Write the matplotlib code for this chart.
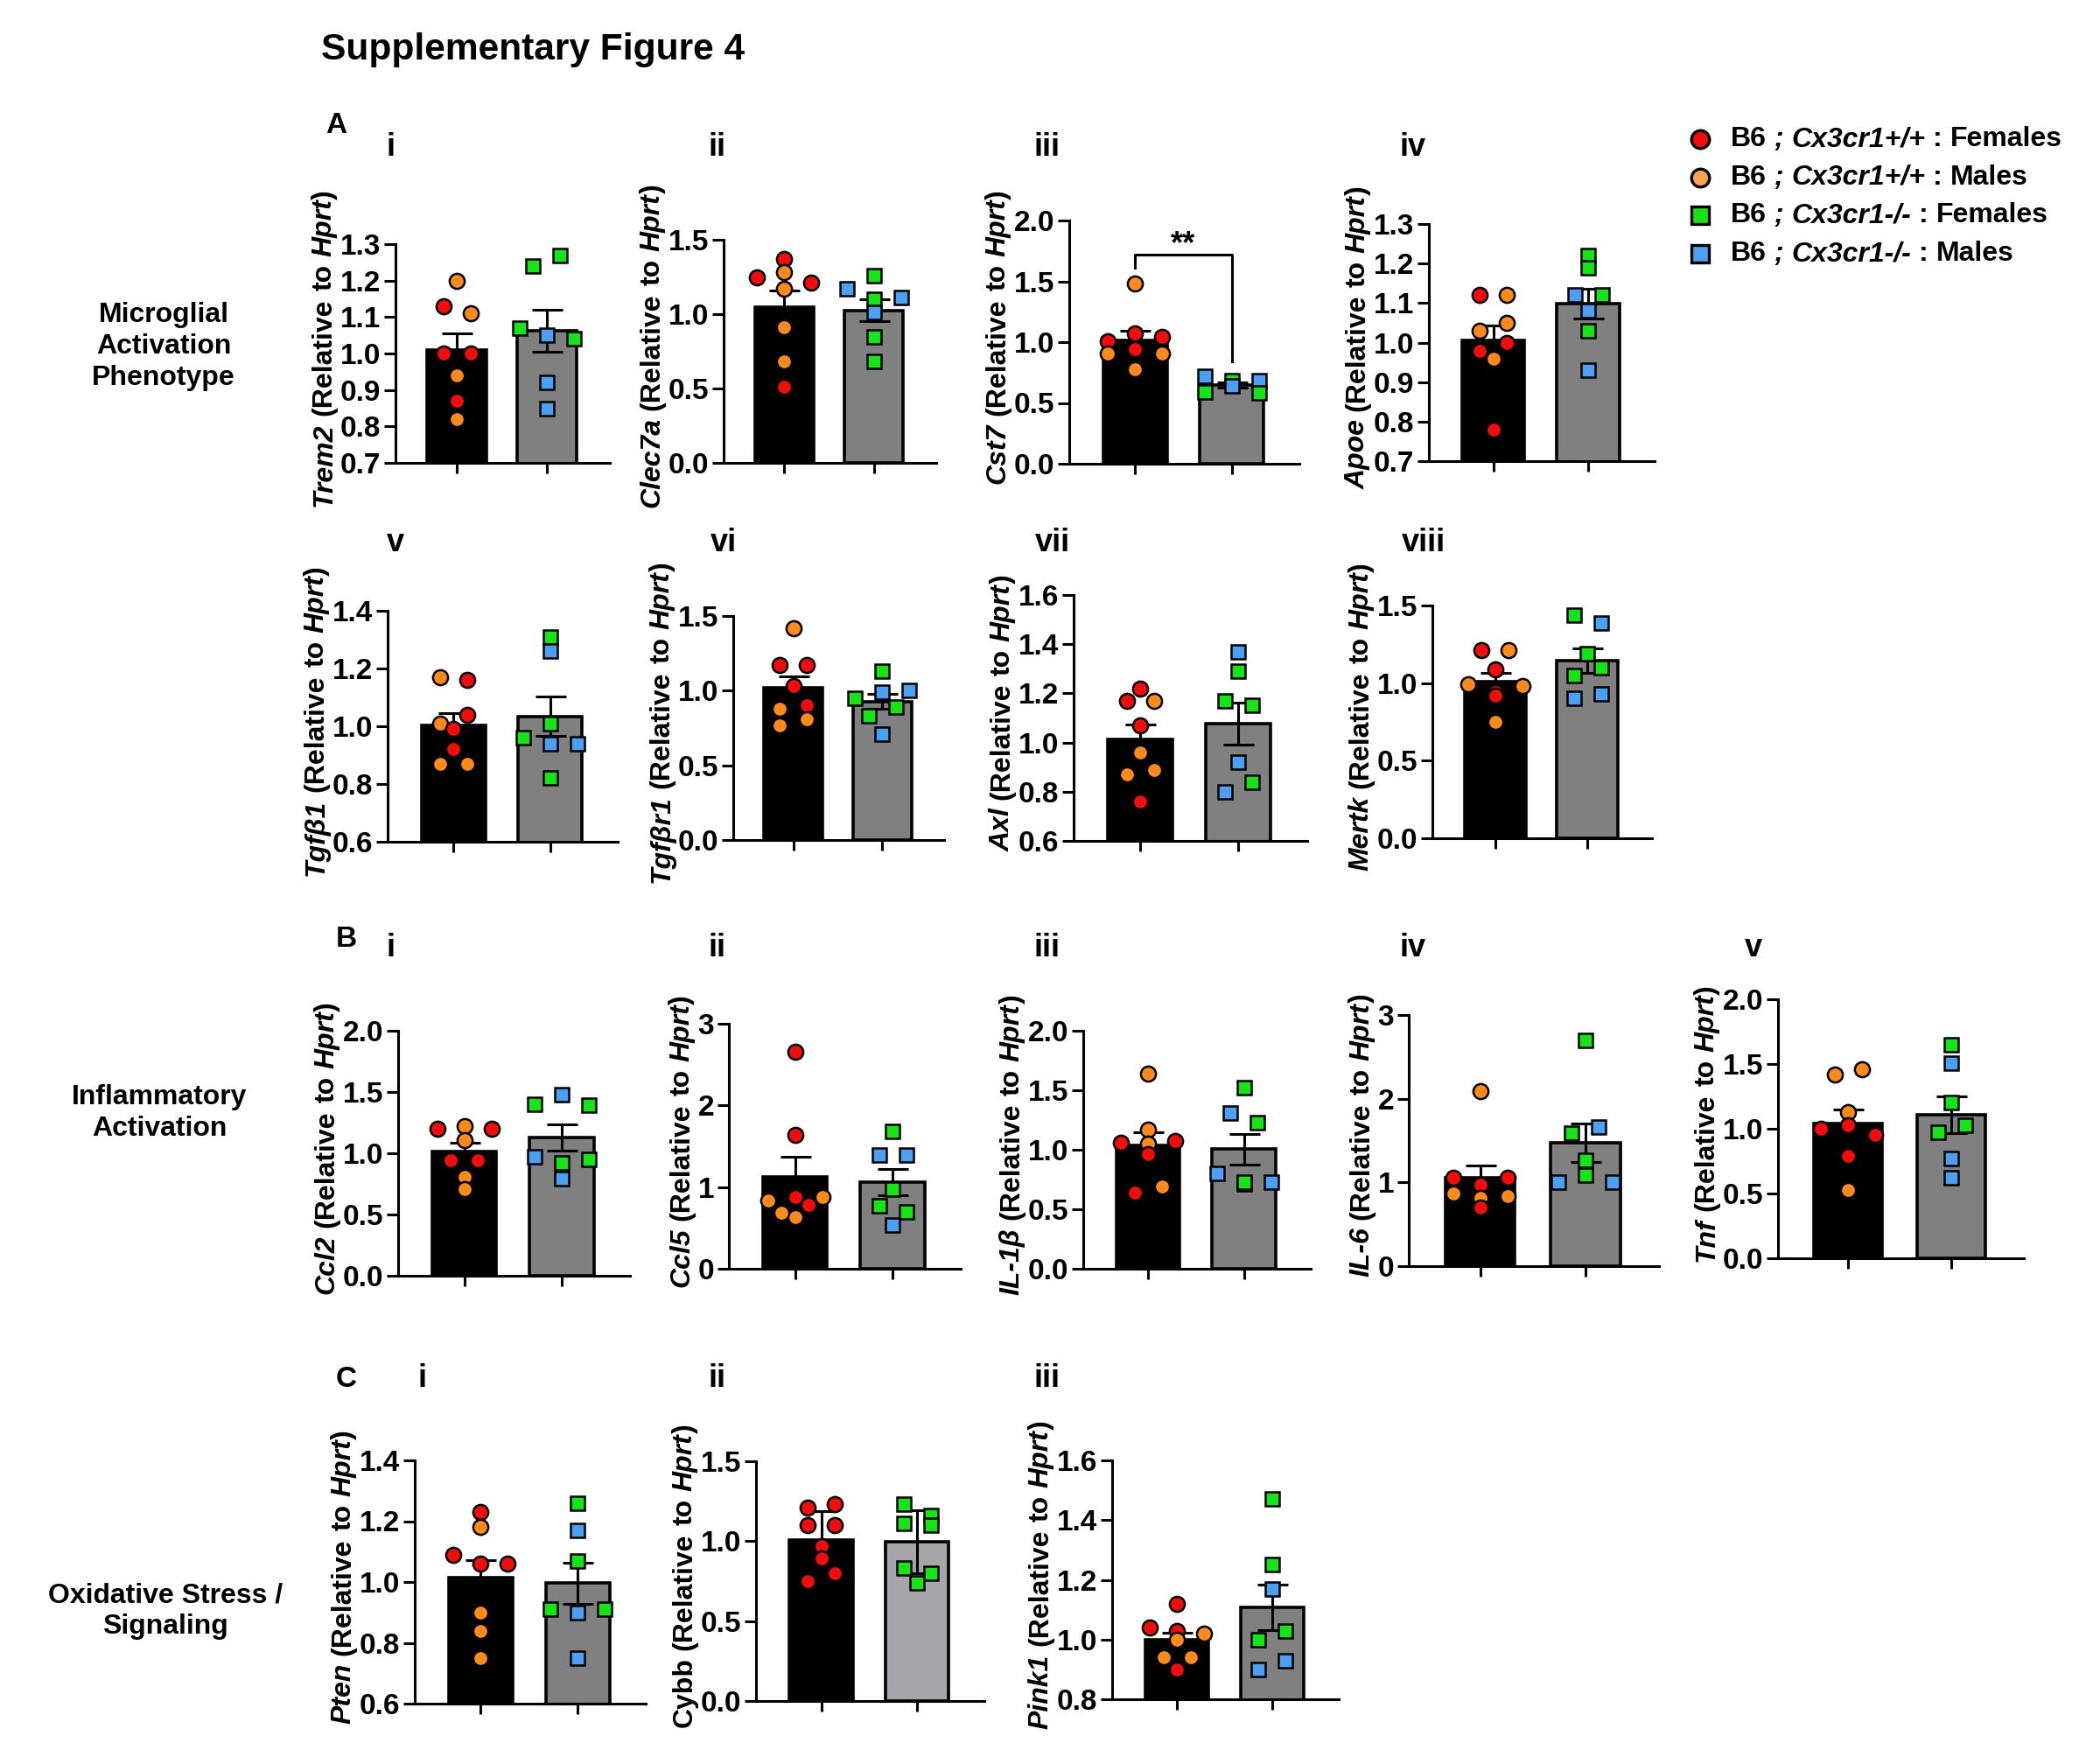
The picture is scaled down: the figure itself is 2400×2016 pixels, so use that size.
import matplotlib
matplotlib.use('Agg')
import matplotlib.pyplot as plt
import numpy as np

plt.rcParams['font.family'] = ['Liberation Sans', 'DejaVu Sans']
plt.rcParams['font.weight'] = 'bold'

W, H, DPI = 2400, 2016, 200

RED = '#f20d0d'
ORANGE = '#ff8a1c'
GREEN = '#16e416'
BLUE = '#4c9ff2'
LEG_ORANGE = '#f7a24e'

# ---- data (relative expression, each point one animal) ----
# sex codes: F = female, M = male ; wt = Cx3cr1+/+, ko = Cx3cr1-/-
trem2_wt = [1.20, 1.13, 1.11, 1.00, 1.00, 0.94, 0.87, 0.82]
trem2_wt_sex = 'MFMFFMFM'
trem2_ko = [1.24, 1.27, 1.07, 1.05, 1.04, 0.92, 0.85]
trem2_ko_sex = 'FFFMFMM'

clec7a_wt = [1.37, 1.25, 1.28, 1.21, 1.17, 0.91, 0.68, 0.51]
clec7a_wt_sex = 'FFMFMMMF'
clec7a_ko = [1.26, 1.17, 1.10, 1.11, 1.01, 0.85, 0.68]
clec7a_ko_sex = 'FMFMMFF'

cst7_wt = [1.48, 1.01, 1.07, 1.04, 0.91, 0.94, 0.91, 0.78]
cst7_wt_sex = 'MFFFMFMM'
cst7_ko = [0.72, 0.68, 0.68, 0.59, 0.64, 0.58]
cst7_ko_sex = 'MFMFMF'

apoe_wt = [1.12, 1.12, 1.03, 1.05, 0.98, 1.00, 0.96, 0.78]
apoe_wt_sex = 'FMMMFFMF'
apoe_ko = [1.22, 1.19, 1.12, 1.12, 1.08, 1.03, 0.93]
apoe_ko_sex = 'FFMFMFM'

tgfb1_wt = [1.17, 1.16, 1.01, 1.04, 0.99, 0.92, 0.87, 0.87]
tgfb1_wt_sex = 'MFMFFFMM'
tgfb1_ko = [1.31, 1.26, 1.01, 0.96, 0.94, 0.94, 0.82]
tgfb1_ko_sex = 'FMFFMMF'

tgfbr1_wt = [1.42, 1.17, 1.17, 1.03, 0.88, 0.90, 0.77, 0.81]
tgfbr1_wt_sex = 'MFFFMFMM'
tgfbr1_ko = [1.13, 0.95, 0.99, 1.00, 0.83, 0.89, 0.71]
tgfbr1_ko_sex = 'FFMMFFM'

axl_wt = [1.22, 1.17, 1.17, 1.07, 0.96, 0.87, 0.89, 0.76]
axl_wt_sex = 'FFMFMMMF'
axl_ko = [1.37, 1.29, 1.17, 1.15, 0.92, 0.80, 0.84]
axl_ko_sex = 'MFFFMMF'

mertk_wt = [1.21, 1.21, 1.09, 0.99, 0.94, 0.98, 0.92, 0.75]
mertk_wt_sex = 'FMFMFMFM'
mertk_ko = [1.44, 1.39, 1.19, 1.05, 1.10, 0.90, 0.93]
mertk_ko_sex = 'FMFFFMM'

ccl2_wt = [1.20, 1.22, 1.20, 1.11, 0.94, 0.94, 0.81, 0.71]
ccl2_wt_sex = 'FMFMFFMM'
ccl2_ko = [1.40, 1.48, 1.39, 0.97, 0.92, 0.95, 0.79]
ccl2_ko_sex = 'FMFMFFM'

ccl5_wt = [2.66, 1.64, 0.84, 0.88, 0.88, 0.63, 0.69, 0.78]
ccl5_wt_sex = 'FFMFMMMF'
ccl5_ko = [1.68, 1.39, 1.39, 0.97, 0.77, 0.70, 0.54]
ccl5_ko_sex = 'FMMFFFM'

il1b_wt = [1.64, 1.17, 1.06, 1.05, 1.07, 0.96, 0.64, 0.69]
il1b_wt_sex = 'MMFMFFFM'
il1b_ko = [1.52, 1.31, 1.23, 0.80, 0.71, 0.73, 0.73]
il1b_ko_sex = 'FMFMFFM'

il6_wt = [2.09, 1.06, 0.97, 1.06, 0.87, 0.82, 0.84, 0.70]
il6_wt_sex = 'MFFFMMMF'
il6_ko = [2.70, 1.59, 1.66, 1.26, 1.00, 1.09, 1.00]
il6_ko_sex = 'FFMFMFM'

tnf_wt = [1.42, 1.46, 1.13, 1.00, 1.03, 0.95, 0.79, 0.53]
tnf_wt_sex = 'MMMFFFFM'
tnf_ko = [1.65, 1.51, 1.20, 0.97, 1.03, 0.77, 0.62]
tnf_ko_sex = 'FMFFFMM'

pten_wt = [1.23, 1.18, 1.09, 1.06, 1.06, 0.90, 0.84, 0.75]
pten_wt_sex = 'FMFFFMMM'
pten_ko = [1.26, 1.17, 1.07, 0.91, 0.90, 0.91, 0.75]
pten_ko_sex = 'FMFFMFM'

cybb_wt = [1.21, 1.23, 1.10, 1.10, 0.97, 0.89, 0.75, 0.80]
cybb_wt_sex = 'FFFFFFFF'
cybb_ko = [1.23, 1.16, 1.11, 1.10, 0.83, 0.80, 0.74]
cybb_ko_sex = 'FFFFFFF'

pink1_wt = [1.12, 1.04, 1.03, 1.02, 1.00, 0.94, 0.94, 0.90]
pink1_wt_sex = 'FFFMMMMF'
pink1_ko = [1.47, 1.25, 1.17, 1.00, 1.03, 0.90, 0.93]
pink1_ko_sex = 'FFMFFMM'

legend_labels = ['B6 *; Cx3cr1+/+* : Females', 'B6 *; Cx3cr1+/+* : Males',
                 'B6 *; Cx3cr1-/-* : Females', 'B6 *; Cx3cr1-/-* : Males']

# ---- layout: axis box in pixels (y-axis x, x-axis end, top, bottom) ----
panels = [
    dict(wt=trem2_wt, ws=trem2_wt_sex, ko=trem2_ko, ks=trem2_ko_sex, lab='*Trem2* (Relative to *Hprt*)',
         box=(452, 697, 279, 529), ylim=(0.7, 1.3), step=0.1, num='i', nxy=(447, 178)),
    dict(wt=clec7a_wt, ws=clec7a_wt_sex, ko=clec7a_ko, ks=clec7a_ko_sex, lab='*Clec7a* (Relative to *Hprt*)',
         box=(827, 1070, 274, 529), ylim=(0, 1.5), step=0.5, num='ii', nxy=(820, 178)),
    dict(wt=cst7_wt, ws=cst7_wt_sex, ko=cst7_ko, ks=cst7_ko_sex, lab='*Cst7* (Relative to *Hprt*)',
         box=(1222, 1485, 252, 530), ylim=(0, 2.0), step=0.5, num='iii', nxy=(1197, 178),
         sig=(1.72, 1.61, 0.84, '**')),
    dict(wt=apoe_wt, ws=apoe_wt_sex, ko=apoe_ko, ks=apoe_ko_sex, lab='*Apoe* (Relative to *Hprt*)',
         box=(1633, 1891, 256, 527), ylim=(0.7, 1.3), step=0.1, num='iv', nxy=(1615, 178)),
    dict(wt=tgfb1_wt, ws=tgfb1_wt_sex, ko=tgfb1_ko, ks=tgfb1_ko_sex, lab='*Tgfβ1* (Relative to *Hprt*)',
         box=(443, 706, 698, 962), ylim=(0.6, 1.4), step=0.2, num='v', nxy=(452, 630)),
    dict(wt=tgfbr1_wt, ws=tgfbr1_wt_sex, ko=tgfbr1_ko, ks=tgfbr1_ko_sex, lab='*Tgfβr1* (Relative to *Hprt*)',
         box=(838, 1079, 704, 960), ylim=(0, 1.5), step=0.5, num='vi', nxy=(827, 630)),
    dict(wt=axl_wt, ws=axl_wt_sex, ko=axl_ko, ks=axl_ko_sex, lab='*Axl* (Relative to *Hprt*)',
         box=(1227, 1494, 680, 961), ylim=(0.6, 1.6), step=0.2, num='vii', nxy=(1203, 630)),
    dict(wt=mertk_wt, ws=mertk_wt_sex, ko=mertk_ko, ks=mertk_ko_sex, lab='*Mertk* (Relative to *Hprt*)',
         box=(1637, 1888, 692, 958), ylim=(0, 1.5), step=0.5, num='viii', nxy=(1627, 630)),
    dict(wt=ccl2_wt, ws=ccl2_wt_sex, ko=ccl2_ko, ks=ccl2_ko_sex, lab='*Ccl2* (Relative to *Hprt*)',
         box=(455, 720, 1178, 1458), ylim=(0, 2.0), step=0.5, num='i', nxy=(447, 1093)),
    dict(wt=ccl5_wt, ws=ccl5_wt_sex, ko=ccl5_ko, ks=ccl5_ko_sex, lab='*Ccl5* (Relative to *Hprt*)',
         box=(833, 1098, 1170, 1450), ylim=(0, 3), step=1, num='ii', nxy=(820, 1093)),
    dict(wt=il1b_wt, ws=il1b_wt_sex, ko=il1b_ko, ks=il1b_ko_sex, lab='*IL-1β* (Relative to *Hprt*)',
         box=(1238, 1498, 1178, 1450), ylim=(0, 2.0), step=0.5, num='iii', nxy=(1197, 1093)),
    dict(wt=il6_wt, ws=il6_wt_sex, ko=il6_ko, ks=il6_ko_sex, lab='*IL-6* (Relative to *Hprt*)',
         box=(1610, 1896, 1160, 1447), ylim=(0, 3), step=1, num='iv', nxy=(1615, 1093)),
    dict(wt=tnf_wt, ws=tnf_wt_sex, ko=tnf_ko, ks=tnf_ko_sex, lab='*Tnf* (Relative to *Hprt*)',
         box=(2032, 2313, 1142, 1438), ylim=(0, 2.0), step=0.5, num='v', nxy=(2004, 1093)),
    dict(wt=pten_wt, ws=pten_wt_sex, ko=pten_ko, ks=pten_ko_sex, lab='*Pten* (Relative to *Hprt*)',
         box=(474, 738, 1669, 1947), ylim=(0.6, 1.4), step=0.2, num='i', nxy=(482, 1585)),
    dict(wt=cybb_wt, ws=cybb_wt_sex, ko=cybb_ko, ks=cybb_ko_sex, lab='Cybb (Relative to *Hprt*)',
         box=(864, 1125, 1670, 1944), ylim=(0, 1.5), step=0.5, num='ii', nxy=(819, 1585),
         err='sd', gray='#a6a6aa'),
    dict(wt=pink1_wt, ws=pink1_wt_sex, ko=pink1_ko, ks=pink1_ko_sex, lab='*Pink1* (Relative to *Hprt*)',
         box=(1271, 1530, 1669, 1942), ylim=(0.8, 1.6), step=0.2, num='iii', nxy=(1197, 1585)),
]

XLIM = (-0.68, 1.70)
BAR_W = 0.66


def swarm(vals, ppu_y, ppu_x, thr=13.0, step=31.0, maxrow=3):
    # group points of similar height into rows and spread each row sideways
    order = sorted(range(len(vals)), key=lambda i: -vals[i])
    rows = []
    for i in order:
        if rows and len(rows[-1]) < maxrow and (vals[rows[-1][0]] - vals[i]) * ppu_y < thr:
            rows[-1].append(i)
        else:
            rows.append([i])
    off = [0.0] * len(vals)
    for r in rows:
        r = sorted(r)
        n = len(r)
        for k, i in enumerate(r):
            off[i] = (k - (n - 1) / 2) * step / ppu_x
    return off


fig = plt.figure(figsize=(W / DPI, H / DPI), dpi=DPI)
lax = fig.add_axes([0, 0, 1, 1], zorder=10)
lax.set_xlim(0, W)
lax.set_ylim(H, 0)
lax.axis('off')

axes = []
for p in panels:
    x0, x1, yt, yb = p['box']
    ax = fig.add_axes([x0 / W, 1 - yb / H, (x1 - x0) / W, (yb - yt) / H])
    axes.append(ax)
    lo, hi = p['ylim']
    ppu_y = (yb - yt) / (hi - lo)
    ppu_x = (x1 - x0) / (XLIM[1] - XLIM[0])

    groups = [(p['wt'], p['ws'], 'o', 'black'), (p['ko'], p['ks'], 's', p.get('gray', '#808080'))]
    means, errs = [], []
    for vals, sex, mk, col in groups:
        v = np.array(vals)
        means.append(v.mean())
        sd = v.std(ddof=1)
        errs.append(sd if p.get('err') == 'sd' else sd / np.sqrt(len(v)))

    ax.bar([0, 1], means, width=BAR_W, color=[g[3] for g in groups], edgecolor='black',
           linewidth=1.3, zorder=1)
    ax.errorbar([0, 1], means, yerr=errs, fmt='none', ecolor='black', elinewidth=1.1,
                capsize=6.3, capthick=1.1, zorder=2)

    for gx, (vals, sex, mk, col) in enumerate(groups):
        offs = swarm(vals, ppu_y, ppu_x)
        for v, s, o in zip(vals, sex, offs):
            if mk == 'o':
                fc = RED if s == 'F' else ORANGE
            else:
                fc = GREEN if s == 'F' else BLUE
            ax.plot(gx + o, v, marker=mk, ms=6.2 if mk == 'o' else 6.0, mfc=fc, mec='black',
                    mew=0.9, ls='none', zorder=3, clip_on=False)

    if 'sig' in p:
        ytop, yl, yr, txt = p['sig']
        ax.plot([0, 0, 1, 1], [yl, ytop, ytop, yr], color='black', lw=1.1, zorder=4, clip_on=False)
        ax.text(0.5, ytop + 0.015, txt, ha='center', va='baseline', fontsize=13,
                fontweight='bold')

    ax.set_xlim(*XLIM)
    ax.set_ylim(lo, hi)
    ticks = np.round(np.arange(lo, hi + 1e-9, p['step']), 2)
    ax.set_yticks(ticks)
    ax.set_yticklabels(['%d' % t if p['step'] >= 1 else '%.1f' % t for t in ticks])
    ax.set_xticks([0, 1])
    ax.set_xticklabels(['', ''])
    for sp in ['top', 'right']:
        ax.spines[sp].set_visible(False)
    for sp in ['left', 'bottom']:
        ax.spines[sp].set_linewidth(1.1)
    ax.tick_params(axis='y', direction='out', length=4.6, width=1.1, pad=1.5, labelsize=12)
    ax.tick_params(axis='x', direction='out', length=4.3, width=1.1)
    ax.patch.set_alpha(0)

fig.canvas.draw()
renderer = fig.canvas.get_renderer()


def rich(x, y, markup, size, vertical=False):
    toks = []
    for k, seg in enumerate(markup.split('*')):
        for j, word in enumerate(seg.split(' ')):
            if j:
                toks.append(None)
            if word:
                toks.append((word, k % 2 == 1))
    space = 0.278 * size * DPI / 72
    arts, widths = [], []
    for tok in toks:
        if tok is None:
            arts.append(None)
            widths.append(space)
            continue
        t = lax.text(0, 0, tok[0], fontsize=size, fontweight='bold',
                     fontstyle='italic' if tok[1] else 'normal', ha='left', va='baseline')
        widths.append(t.get_window_extent(renderer).width)
        arts.append(t)
    total = sum(widths)
    pos = 0.0
    for t, w in zip(arts, widths):
        if t is not None:
            if vertical:
                t.set_rotation(90)
                t.set_rotation_mode('anchor')
                t.set_position((x, y + total / 2 - pos))
            else:
                t.set_position((x + pos, y))
        pos += w


# y-axis labels, placed left of the tick labels
for p, ax in zip(panels, axes):
    x0, x1, yt, yb = p['box']
    bbs = [t.get_window_extent(renderer) for t in ax.get_yticklabels() if t.get_text()]
    left = min(b.x0 for b in bbs)
    rich(left - 10, (yt + yb) / 2 - 6, p['lab'], 11.5, vertical=True)
    lax.text(p['nxy'][0], p['nxy'][1], p['num'], ha='center', va='baseline', fontsize=13,
             fontweight='bold')

# title, panel letters, row labels
lax.text(367, 68, 'Supplementary Figure 4', ha='left', va='baseline', fontsize=15.3, fontweight='bold')
lax.text(384, 152, 'A', ha='center', va='baseline', fontsize=12, fontweight='bold')
lax.text(396, 1082, 'B', ha='center', va='baseline', fontsize=12, fontweight='bold')
lax.text(396, 1585, 'C', ha='center', va='baseline', fontsize=12, fontweight='bold')

row_text = dict(ha='center', va='center', fontsize=11.5, fontweight='bold', linespacing=1.25,
                multialignment='center')
lax.text(187, 396, 'Microglial\nActivation\nPhenotype', **row_text)
lax.text(182, 1272, 'Inflammatory\nActivation', **row_text)
lax.text(189, 1841, 'Oxidative Stress /\nSignaling', **row_text)

# legend
leg_style = [('o', RED), ('o', LEG_ORANGE), ('s', GREEN), ('s', BLUE)]
for k, ((mk, fc), lab) in enumerate(zip(leg_style, legend_labels)):
    yy = 159 + k * 43.7
    lax.plot(1943, yy, marker=mk, ms=7.4 if mk == 'o' else 7.0, mfc=fc, mec='black', mew=1.2,
             ls='none')
    rich(1978, yy + 8, lab, 11.5)

fig.savefig('out.png', dpi=DPI)
